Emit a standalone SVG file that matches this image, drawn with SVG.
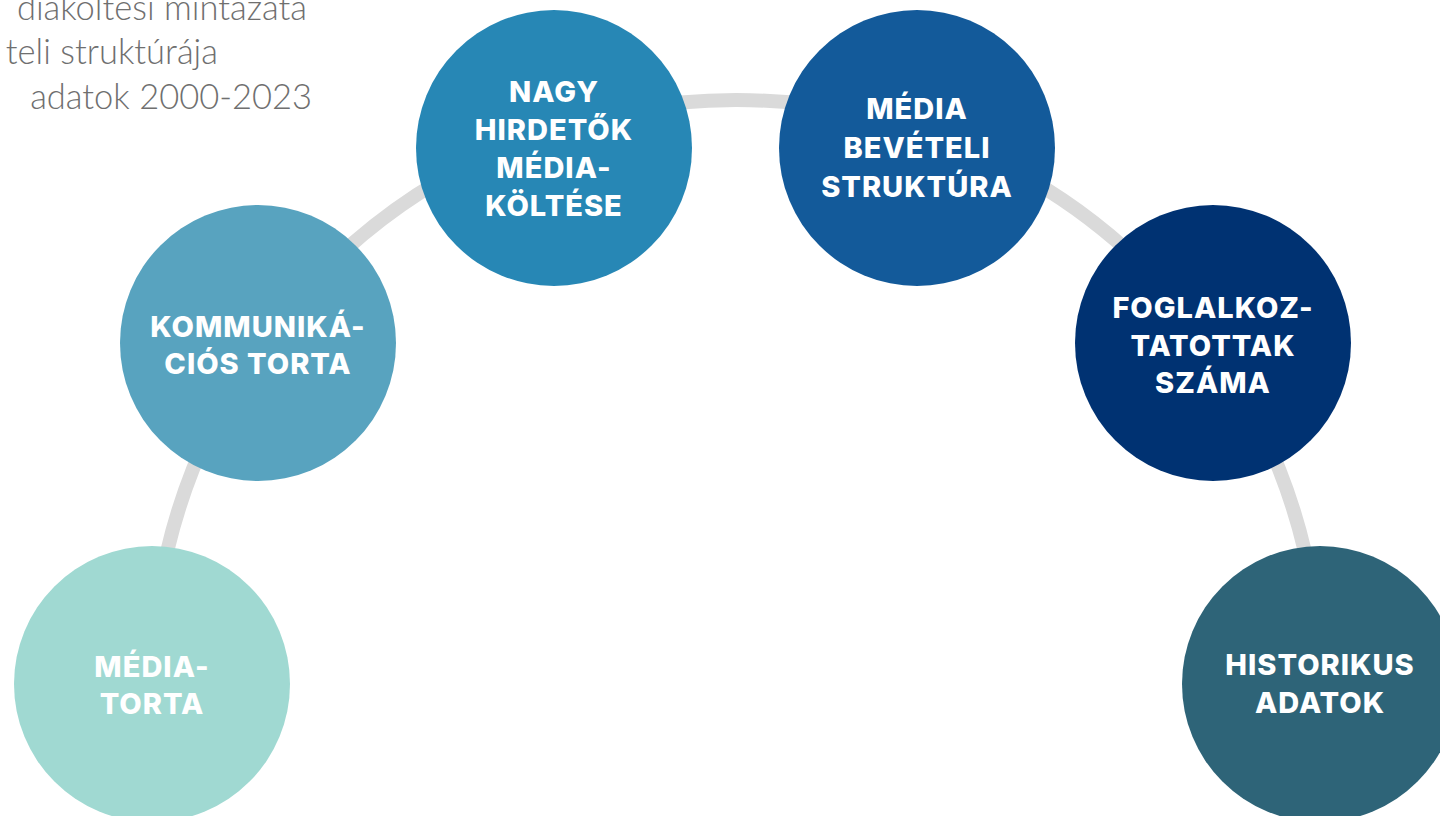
<svg xmlns="http://www.w3.org/2000/svg" width="1440" height="816" viewBox="0 0 1440 816">
  <style>
    .caption { font-family: Lato, "Liberation Sans", sans-serif; font-weight: 300; font-size: 34.5px; fill: #6f6f6f; }
    .label { font-family: Inter, "Liberation Sans", sans-serif; font-weight: 800; font-size: 29px; fill: #ffffff; text-anchor: middle; letter-spacing: 1px; }
    .link { fill: none; stroke: #dadada; stroke-width: 14; }
  </style>

  <!-- caption block, running off the left edge -->
  <g id="caption">
    <text class="caption" x="307" y="20" text-anchor="end">diaköltési mintázata</text>
    <text class="caption" x="218" y="64" text-anchor="end">teli struktúrája</text>
    <text class="caption" x="312" y="109" text-anchor="end">adatok 2000-2023</text>
  </g>

  <!-- arc linking the circles -->
  <g id="connectors">
    <path class="link" d="M 152 684 A 584 584 0 0 1 1320 684"/>
  </g>

  <g id="node-media-torta">
    <circle cx="152" cy="684" r="138" fill="#a0d9d2"/>
    <text class="label" x="152" y="677">MÉDIA-</text>
    <text class="label" x="152" y="714">TORTA</text>
  </g>

  <g id="node-kommunikacios-torta">
    <circle cx="258" cy="343" r="138" fill="#58a3bf"/>
    <text class="label" x="258" y="337">KOMMUNIKÁ-</text>
    <text class="label" x="258" y="374">CIÓS TORTA</text>
  </g>

  <g id="node-nagy-hirdetok">
    <circle cx="554" cy="148" r="138" fill="#2787b5"/>
    <text class="label" x="554" y="102">NAGY</text>
    <text class="label" x="554" y="140">HIRDETŐK</text>
    <text class="label" x="554" y="178">MÉDIA-</text>
    <text class="label" x="554" y="216">KÖLTÉSE</text>
  </g>

  <g id="node-media-beveteli">
    <circle cx="917" cy="148" r="138" fill="#135a9a"/>
    <text class="label" x="917" y="119">MÉDIA</text>
    <text class="label" x="917" y="158">BEVÉTELI</text>
    <text class="label" x="917" y="197">STRUKTÚRA</text>
  </g>

  <g id="node-foglalkoztatottak">
    <circle cx="1213" cy="343" r="138" fill="#003272"/>
    <text class="label" x="1213" y="318">FOGLALKOZ-</text>
    <text class="label" x="1213" y="356">TATOTTAK</text>
    <text class="label" x="1213" y="393">SZÁMA</text>
  </g>

  <g id="node-historikus">
    <circle cx="1320" cy="684" r="138" fill="#2e6478"/>
    <text class="label" x="1320" y="675">HISTORIKUS</text>
    <text class="label" x="1320" y="713">ADATOK</text>
  </g>
</svg>
